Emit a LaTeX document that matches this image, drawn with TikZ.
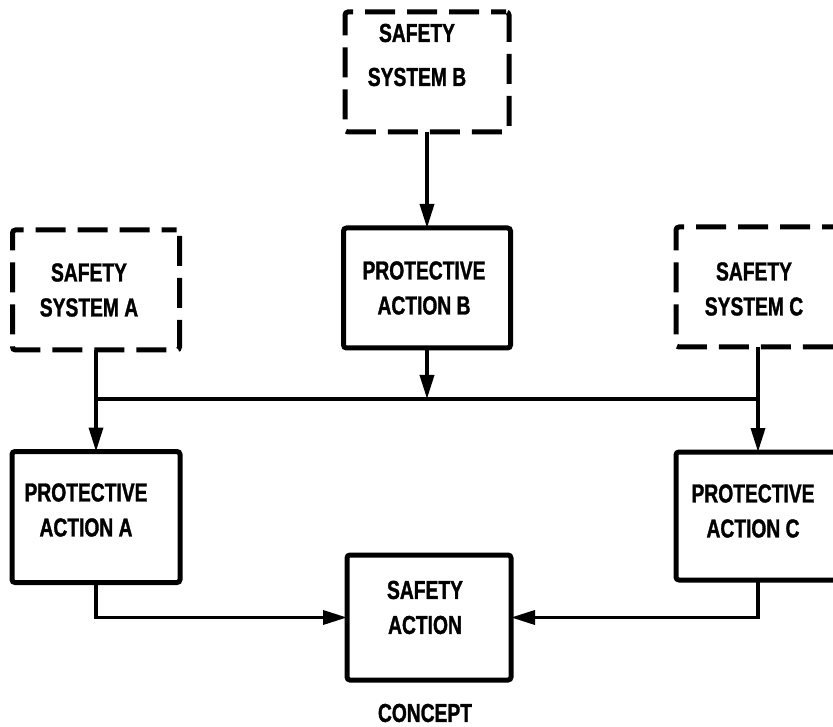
\documentclass[tikz,border=0pt]{standalone}
\usepackage{fontspec}
\setmainfont{Liberation Sans}[FakeStretch=0.74, BoldFeatures={FakeBold=1.2}]
\usetikzlibrary{arrows.meta}
\tikzset{
  box/.style={draw, line width=5pt, rounded corners=3pt, inner sep=0pt, outer sep=0pt},
  solidbox/.style={box},
  dashbox/.style={box, dash pattern=on 30pt off 12pt, dash phase=15pt},
  txt/.style={align=center, font=\fontsize{26}{35}\selectfont\bfseries},
  conn/.style={line width=3.5pt, line cap=butt},
  arr/.style={conn, -{Triangle[length=24pt,width=14pt]}},
}
\begin{document}
\begin{tikzpicture}[x=1pt,y=-1pt]
\useasboundingbox (0,0) rectangle (833,727);
% boxes
\node[dashbox, minimum width=164pt, minimum height=120pt,
  label={[txt, xshift=-10pt, yshift=17pt]center:{SAFETY\\[9pt]SYSTEM B}}] (ssb) at (427,72) {};
\node[solidbox, minimum width=167pt, minimum height=120pt,
  label={[txt, xshift=-3pt, yshift=0pt]center:{PROTECTIVE\\ACTION B}}] (pab) at (427,288) {};
\node[dashbox, minimum width=167pt, minimum height=120pt,
  label={[txt, xshift=-7pt, yshift=0pt]center:{SAFETY\\SYSTEM A}}] (ssa) at (96,290) {};
\node[dashbox, minimum width=164pt, minimum height=120pt,
  label={[txt, xshift=-4pt, yshift=-2pt]center:{SAFETY\\SYSTEM C}}] (ssc) at (758,287) {};
\node[solidbox, minimum width=168pt, minimum height=131pt,
  label={[txt, xshift=-10pt, yshift=7pt]center:{PROTECTIVE\\ACTION A}}] (paa) at (96,517) {};
\node[solidbox, minimum width=164pt, minimum height=128pt,
  label={[txt, xshift=-5pt, yshift=5pt]center:{PROTECTIVE\\ACTION C}}] (pac) at (758,516) {};
\node[solidbox, minimum width=164pt, minimum height=125pt,
  label={[txt, xshift=-4pt, yshift=10pt]center:{SAFETY\\ACTION}}] (sa) at (429,617.5) {};
\node[txt] (concept) at (425,713) {CONCEPT};
\coordinate (bus) at (427,399);
% connectors
\draw[arr] (ssb.south) -- (pab.north);
\draw[arr] (pab.south) -- (bus);
\draw[conn] (ssa.south |- bus) -- (ssc.south |- bus);
\draw[arr] (ssa.south) -- (paa.north);
\draw[arr] (ssc.south) -- (pac.north);
\draw[arr] (paa.south) |- (sa.west);
\draw[arr] (pac.south) |- (sa.east);
\end{tikzpicture}
\end{document}
